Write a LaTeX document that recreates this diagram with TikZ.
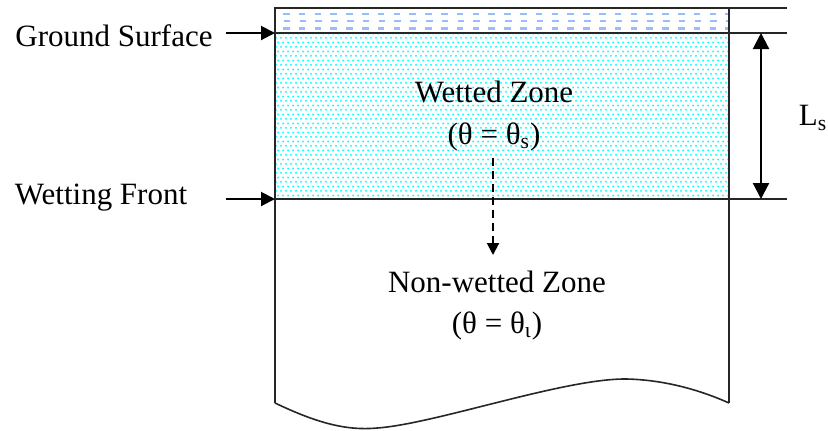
\documentclass[tikz,border=0pt]{standalone}
\usepackage{fontspec}
\setmainfont{Liberation Serif}
\usetikzlibrary{arrows.meta,patterns.meta}
\tikzdeclarepattern{
  name=wetdots,
  type=uncolored,
  bottom left={(0pt,0pt)},
  top right={(2.5pt,4.4pt)},
  tile size={(2.5pt,4.4pt)},
  code={
    \fill (0.6pt,1.1pt) circle (0.6pt);
    \fill (1.85pt,3.3pt) circle (0.6pt);
  }
}
\begin{document}
\begin{tikzpicture}[x=0.5pt,y=-0.5pt,
  boxline/.style={line width=0.8pt,black!85},
  lbl/.style={font=\fontsize{15.5}{18}\selectfont,inner sep=0pt,anchor=center},
  ptr/.style={line width=1pt,-{Triangle[length=7pt,width=7pt]}},
  dimarrow/.style={line width=1.1pt,{Triangle[length=8pt,width=8pt]}-{Triangle[length=8pt,width=8pt]}},
  flowarrow/.style={line width=1pt,dash pattern=on 4pt off 2.5pt,-{Triangle[length=6pt,width=6pt]}},
  waterdash/.style={line width=1.1pt,color={rgb,255:red,150;green,190;blue,250},dash pattern=on 3.3pt off 4.6pt}
]
\useasboundingbox (0,0) rectangle (828,430);
% wetted zone fill
\fill[pattern=wetdots,pattern color=cyan] (275,33) rectangle (729,199);
% water layer
\draw[waterdash] (283,14) -- (729,14);
\draw[waterdash,dash phase=4pt] (276,21) -- (729,21);
\draw[waterdash] (283,28.5) -- (729,28.5);
% box
\coordinate (tl) at (275,8);
\coordinate (tr) at (729,8);
\coordinate (bl) at (275,403);
\coordinate (br) at (729,403);
\draw[boxline] (bl) -- (tl) -- (787,8);
\draw[boxline] (tr) -- (br);
\draw[boxline] (275,33) -- (787,33);
\draw[boxline] (275,199) -- (787,199);
\draw[boxline] (bl) .. controls (315,422) and (345,431) .. (377,428)
  .. controls (435,424) and (565,378) .. (627,379)
  .. controls (665,380) and (700,390) .. (br);
% labels
\node[lbl] (gs) at (114,36) {Ground Surface};
\node[lbl] (wf) at (101,198) {Wetting Front};
\node[lbl] (wz) at (494,92) {Wetted Zone};
\node[lbl] (wzt) at (494,137) {(θ = θ\textsubscript{s})};
\node[lbl] (nz) at (497,282) {Non-wetted Zone};
\node[lbl] (nzt) at (497,326) {(θ = θ\textsubscript{ι})};
\node[lbl] (ls) at (813,118) {L\textsubscript{s}};
% arrows
\coordinate (gsa) at (226,33);
\coordinate (gsb) at (275,33);
\coordinate (wfa) at (226,199);
\coordinate (wfb) at (275,199);
\draw[ptr] (gsa) -- (gsb);
\draw[ptr] (wfa) -- (wfb);
\coordinate (lstop) at (761,33);
\coordinate (lsbot) at (761,199);
\draw[dimarrow] (lstop) -- (lsbot);
\coordinate (fa) at (493,158);
\coordinate (fb) at (493,255);
\draw[flowarrow] (fa) -- (fb);
\end{tikzpicture}
\end{document}
